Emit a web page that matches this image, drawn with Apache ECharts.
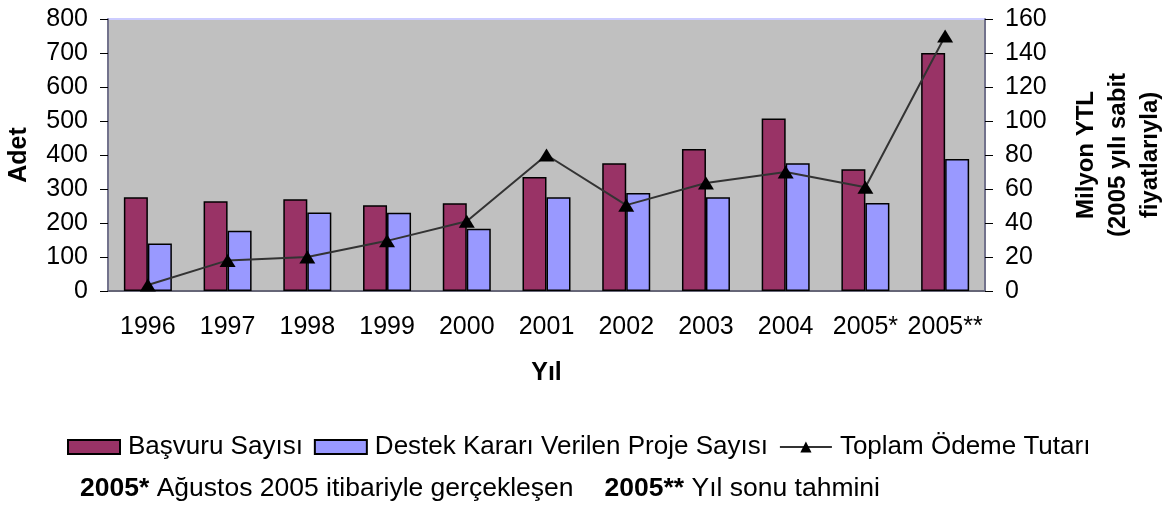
<!DOCTYPE html>
<html>
<head>
<meta charset="utf-8">
<title>Başvuru ve Destek</title>
<script src="https://cdn.jsdelivr.net/npm/echarts@6/dist/echarts.min.js"></script>
<style>
  html, body { margin: 0; padding: 0; background: #fff; }
  #chart { width: 1169px; height: 506px; }
</style>
</head>
<body>
<div id="chart"></div>
<script>
// kategoriler ve seriler
var years = ["1996", "1997", "1998", "1999", "2000", "2001", "2002", "2003", "2004", "2005*", "2005**"];
var basvuru = [276, 264, 270, 252, 258, 335, 376, 418, 507, 358, 700];
var destek = [140, 177, 231, 230, 183, 276, 288, 276, 376, 259, 388];
var odeme = [3.5, 18, 20, 29.5, 41, 80, 50.5, 63.5, 70, 61, 150];

var font = '"Liberation Sans", Arial, sans-serif';

var myChart = echarts.init(document.getElementById("chart"));

var option = {
  backgroundColor: "#fff",
  textStyle: { fontFamily: font },
  title: {
    left: 80,
    top: 475,
    padding: 0,
    text: "{b|2005*} Ağustos 2005 itibariyle gerçekleşen{gap|}{b|2005**} Yıl sonu tahmini",
    textStyle: {
      fontSize: 26.5,
      fontWeight: "normal",
      color: "#000",
      fontFamily: font,
      rich: {
        b: { fontSize: 26.5, fontWeight: "bold", color: "#000", fontFamily: font },
        gap: { width: 31 }
      }
    }
  },
  legend: {
    left: 67,
    top: 434,
    padding: 0,
    itemWidth: 52,
    itemHeight: 14,
    itemGap: 11,
    textStyle: { fontSize: 26, color: "#000", fontFamily: font, padding: [0, 0, 0, 3] },
    data: [
      { name: "Başvuru Sayısı", icon: "rect" },
      { name: "Destek Kararı Verilen Proje Sayısı", icon: "rect" },
      "Toplam Ödeme Tutarı"
    ]
  },
  grid: {
    left: 108,
    right: 184,
    top: 19,
    bottom: 215,
    outerBoundsMode: "none",
    show: true,
    backgroundColor: "#c0c0c0",
    borderColor: "#ccccff",
    borderWidth: 2
  },
  xAxis: {
    type: "category",
    data: years,
    name: "Yıl",
    nameLocation: "middle",
    nameGap: 70,
    nameTextStyle: { fontSize: 25, fontWeight: "bold", color: "#000", fontFamily: font },
    axisLine: { lineStyle: { color: "#666677", width: 2 } },
    axisTick: { length: 8, lineStyle: { color: "#000" } },
    axisLabel: { interval: 0, fontSize: 25, color: "#000", margin: 24, fontFamily: font }
  },
  yAxis: [
    {
      type: "value",
      min: 0,
      max: 800,
      interval: 100,
      name: "Adet",
      nameLocation: "middle",
      nameRotate: 90,
      nameGap: 76,
      nameTextStyle: { fontSize: 25, fontWeight: "bold", color: "#000", fontFamily: font },
      axisLine: { show: true, lineStyle: { color: "#555566", width: 1.5 } },
      axisTick: { show: true, length: 8, lineStyle: { color: "#000" } },
      axisLabel: { fontSize: 25, color: "#000", margin: 20, fontFamily: font },
      splitLine: { show: false }
    },
    {
      type: "value",
      min: 0,
      max: 160,
      interval: 20,
      name: "Milyon YTL\n(2005 yılı sabit\nfiyatlarıyla)",
      nameLocation: "middle",
      nameRotate: 90,
      nameGap: 85,
      nameTextStyle: { fontSize: 24, fontWeight: "bold", color: "#000", lineHeight: 32, align: "center", fontFamily: font },
      axisLine: { show: true, lineStyle: { color: "#555566", width: 1.5 } },
      axisTick: { show: true, length: 8, lineStyle: { color: "#000" } },
      axisLabel: { fontSize: 25, color: "#000", margin: 20, fontFamily: font },
      splitLine: { show: false }
    }
  ],
  series: [
    {
      name: "Başvuru Sayısı",
      type: "bar",
      barWidth: 24,
      barGap: "0%",
      itemStyle: { color: "#993366", borderColor: "#000", borderWidth: 1.5 },
      data: basvuru
    },
    {
      name: "Destek Kararı Verilen Proje Sayısı",
      type: "bar",
      barWidth: 24,
      barGap: "0%",
      itemStyle: { color: "#9999ff", borderColor: "#000", borderWidth: 1.5 },
      data: destek
    },
    {
      name: "Toplam Ödeme Tutarı",
      type: "line",
      yAxisIndex: 1,
      symbol: "triangle",
      symbolSize: [16, 13],
      lineStyle: { color: "#333", width: 2 },
      itemStyle: { color: "#000" },
      data: odeme
    }
  ]
};

myChart.setOption(option);
</script>
</body>
</html>
